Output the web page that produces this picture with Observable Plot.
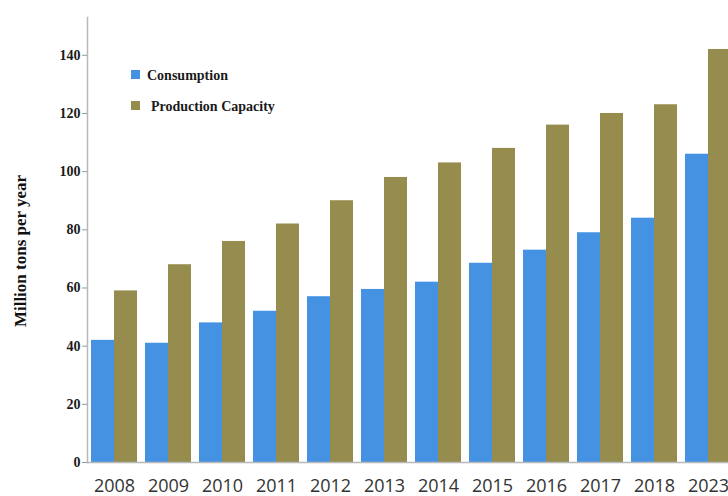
<!DOCTYPE html>
<html>
<head>
<meta charset="utf-8">
<script src="https://cdn.jsdelivr.net/npm/d3@7"></script>
<script src="https://cdn.jsdelivr.net/npm/@observablehq/plot@0.6"></script>
<style>
  html, body { margin: 0; padding: 0; background: #fff; }
  #chart { position: relative; width: 728px; height: 496px; overflow: hidden; }
  #chart svg { overflow: visible; }
</style>
</head>
<body>
<div id="chart"></div>
<script>
const years = ["2008","2009","2010","2011","2012","2013","2014","2015","2016","2017","2018","2023"];
const consumption = [42, 41, 48, 52, 57, 59.5, 62, 68.5, 73, 79, 84, 106];
const capacity = [59, 68, 76, 82, 90, 98, 103, 108, 116, 120, 123, 142];
const seriesNames = ["Consumption", "Production Capacity"];
const seriesColors = ["#4592e3", "#958c4e"];
const yTicks = [0, 20, 40, 60, 80, 100, 120, 140];

const consData = years.map((y, i) => ({year: y, series: seriesNames[0], value: consumption[i]}));
const capData = years.map((y, i) => ({year: y, series: seriesNames[1], value: capacity[i]}));

const plot = Plot.plot({
  width: 728,
  height: 496,
  marginLeft: 87,
  marginRight: -7,
  marginTop: 17,
  marginBottom: 34,
  x: {domain: years, paddingInner: 0.148, paddingOuter: 0.074, label: null},
  y: {domain: [0, 153], label: null},
  color: {domain: seriesNames, range: seriesColors},
  marks: [
    Plot.barY(consData, {x: "year", y: "value", fill: "series", insetRight: 23}),
    Plot.barY(capData, {x: "year", y: "value", fill: "series", insetLeft: 23}),
    Plot.frame({anchor: "left", stroke: "#b8b8b8", strokeWidth: 1.5}),
    Plot.frame({anchor: "bottom", stroke: "#b8b8b8", strokeWidth: 1.5}),
    Plot.axisY({ticks: yTicks, tickSize: 5, tickPadding: 2, stroke: "#999",
      fontFamily: "Liberation Serif", fontWeight: "bold", fontSize: 14, fill: "#1a1a1a", label: null}),
    Plot.axisX({tickSize: 0, tickPadding: 17, fontFamily: "Open Sans", fontSize: 18, fill: "#333", label: null})
  ]
});
document.getElementById("chart").appendChild(plot);

const svg = d3.select(plot);
// y axis title
svg.append("text")
  .attr("transform", "translate(26,251) rotate(-90)")
  .attr("text-anchor", "middle")
  .attr("font-family", "Liberation Serif")
  .attr("font-weight", "bold")
  .attr("font-size", 17)
  .attr("fill", "#111")
  .text("Million tons per year");

// legend
const legend = svg.append("g").attr("text-anchor", "start");
const legendRows = [
  {sq: [131, 70], tx: [147, 80]},
  {sq: [131, 101], tx: [151, 111]}
];
seriesNames.forEach((name, i) => {
  const r = legendRows[i];
  legend.append("rect").attr("x", r.sq[0]).attr("y", r.sq[1]).attr("width", 9).attr("height", 9).attr("fill", seriesColors[i]);
  legend.append("text").attr("x", r.tx[0]).attr("y", r.tx[1])
    .attr("text-anchor", "start")
    .attr("font-family", "Liberation Serif").attr("font-weight", "bold").attr("font-size", 14)
    .attr("fill", "#1a1a1a").text(name);
});
</script>
</body>
</html>
